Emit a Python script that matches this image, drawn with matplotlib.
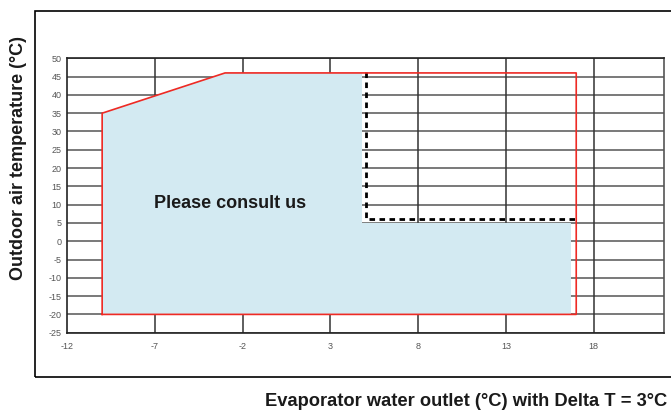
import matplotlib.pyplot as plt
from matplotlib.patches import Rectangle

# operating envelope (red outline)
envelope_x = [-10, -10, -3, 17, 17, -10]
envelope_y = [-20, 35, 46, 46, -20, -20]

# shaded "please consult us" zone
zone_x = [-10, -10, -3, 4.8, 4.8, 16.7, 16.7]
zone_y = [-20, 35, 46, 46, 5, 5, -20]

# dotted limit line
limit_x = [5, 5, 17]
limit_y = [46.3, 6, 6]

x_ticks = [-12, -7, -2, 3, 8, 13, 18]
y_ticks = list(range(-25, 51, 5))

plt.rcParams['font.family'] = ['Liberation Sans', 'DejaVu Sans']
plt.rcParams['axes.unicode_minus'] = False

fig = plt.figure(figsize=(6.71, 4.12), dpi=100)
ax = fig.add_axes([0.0999, 0.1925, 0.8897, 0.666])

# outer frame
fig.patches.append(Rectangle((35 / 671, 1 - 377 / 412), 1.0, (377 - 11) / 412,
                             transform=fig.transFigure, fill=False,
                             edgecolor='black', linewidth=1.2, zorder=0))

for yv in y_ticks:
    ax.axhline(yv, color='#555555', linewidth=1.1, zorder=1)
for xv in x_ticks[1:]:
    ax.axvline(xv, color='#333333', linewidth=1.1, zorder=1)

ax.fill(zone_x, zone_y, color='#d3eaf2', linewidth=0, zorder=2)
ax.plot(envelope_x, envelope_y, color='#ee2a24', linewidth=1.2, zorder=4)
ax.plot(limit_x, limit_y, color='black', linewidth=2,
        linestyle=(0, (2, 1.6)), zorder=3)

ax.text(-2.7, 10.2, 'Please consult us', fontsize=13, fontweight='bold',
        ha='center', va='center', color='#1a1a1a', zorder=5)

ax.set_xlim(-12, 22)
ax.set_ylim(-25, 50)
ax.set_xticks(x_ticks)
ax.set_yticks(y_ticks)
ax.tick_params(length=0, labelsize=6.5, labelcolor='#555555', pad=7)
ax.tick_params(axis='y', pad=4)
for side in ['left', 'top', 'bottom']:
    ax.spines[side].set_color('#222222')
    ax.spines[side].set_linewidth(1.2)
ax.spines['right'].set_color('#555555')
ax.spines['right'].set_linewidth(1.2)

fig.text(19 / 671, 1 - 158 / 412, 'Outdoor air temperature (°C)', rotation=90,
         fontsize=13, fontweight='bold', ha='center', va='center',
         color='#1a1a1a')
fig.text(667 / 671, 1 - 402 / 412,
         'Evaporator water outlet (°C) with Delta T = 3°C',
         fontsize=13.2, fontweight='bold', ha='right', va='center',
         color='#1a1a1a')

fig.savefig('out.png', dpi=100, facecolor='white')
